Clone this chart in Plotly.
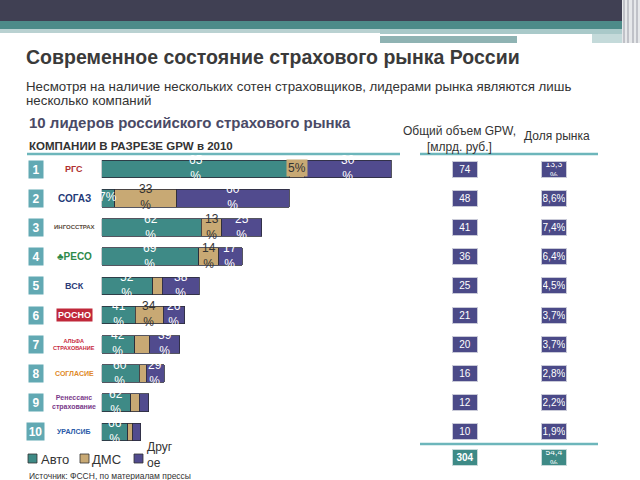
import plotly.graph_objects as go

W, H = 640, 480

# ---------------- data ----------------
ranks = [1, 2, 3, 4, 5, 6, 7, 8, 9, 10]
logo_text = ["РГС", "СОГАЗ", "ИНГОССТРАХ", "♣РЕСО", "ВСК", "РОСНО",
             "АЛЬФА<br>СТРАХОВАНИЕ", "СОГЛАСИЕ", "Ренессанс<br>страхование", "УРАЛСИБ"]
logo_color = ["#b03030", "#1f3a78", "#5a4a3a", "#2e8a4a", "#2c3c78", "#ffffff",
              "#c8283c", "#e08a2a", "#7a3a8a", "#2a5aa8"]
logo_size = [9, 10, 6, 10, 9, 9, 5.5, 7, 7, 7]
gpw = [74, 48, 41, 36, 25, 21, 20, 16, 12, 10]
market_share = ["13,3<br>%", "8,6%", "7,4%", "6,4%", "4,5%", "3,7%", "3,7%", "2,8%", "2,2%", "1,9%"]
auto = [65, 7, 62, 69, 52, 41, 42, 60, 62, 66]
dms = [5, 33, 13, 14, 10, 34, 19, 11, 18, 14]
other = [30, 60, 25, 17, 38, 26, 39, 29, 20, 20]
auto_lbl = ["65<br>%", "7%", "62<br>%", "69<br>%", "52<br>%", "41<br>%", "42<br>%", "60<br>%", "62<br>%", "66<br>%"]
dms_lbl = ["5%", "33<br>%", "13<br>%", "14<br>%", "", "34<br>%", "", "", "", ""]
other_lbl = ["30<br>%", "60<br>%", "25<br>%", "17<br>%", "38<br>%", "26<br>%", "39<br>%", "29<br>%", "", ""]
total_gpw = "304"
total_share = "54,4<br>%"
series_names = ["Авто", "ДМС", "Друг<br>ое"]

# ---------------- styles ----------------
TEAL = "#3e8a86"
TAN = "#c8a974"
PURPLE = "#514b8e"
BOX = "#4b4a88"
RANKBOX = "#62a9b3"
LINE = "#6db6bb"
FONT = "Liberation Sans, Arial, sans-serif"

def px(x):
    return x / W

def py(y):
    return 1 - y / H

auto_v = [g * a / 100 for g, a in zip(gpw, auto)]
dms_v = [g * d / 100 for g, d in zip(gpw, dms)]
other_v = [g * o / 100 for g, o in zip(gpw, other)]

fig = go.Figure()
for vals, col, name in [(auto_v, TEAL, series_names[0]), (dms_v, TAN, series_names[1]),
                        (other_v, PURPLE, series_names[2])]:
    fig.add_trace(go.Bar(
        y=ranks, x=vals, orientation="h", name=name, width=0.6,
        marker=dict(color=col, line=dict(color="#2a2a38", width=0.8)),
        showlegend=False, hoverinfo="skip"))

ann = []
shapes = []

# segment labels
for i, r in enumerate(ranks):
    starts = [0, auto_v[i], auto_v[i] + dms_v[i]]
    for k, (vals, lbls, fc) in enumerate([(auto_v, auto_lbl, "white"),
                                          (dms_v, dms_lbl, "#333333"),
                                          (other_v, other_lbl, "white")]):
        t = lbls[i]
        if not t:
            continue
        a = dict(x=starts[k] + vals[i] / 2, y=r - 0.03, xref="x", yref="y", text=t,
                 showarrow=False, font=dict(family=FONT, size=12, color=fc),
                 xanchor="center", yanchor="middle")
        if "<br>" not in t and k == 1:
            a["bgcolor"] = TAN
        ann.append(a)

    # rank boxes
    ann.append(dict(x=px(35.5), y=r, xref="paper", yref="y", text="<b>%d</b>" % r,
                    xanchor="center", yanchor="middle",
                    showarrow=False, bgcolor=RANKBOX, width=14 if r < 10 else 17, height=17,
                    borderpad=0, font=dict(family=FONT, size=12, color="white")))
    # logos
    lg = dict(x=px(74), y=r, xref="paper", yref="y", text="<b>%s</b>" % logo_text[i],
              xanchor="center", yanchor="middle",
              showarrow=False, font=dict(family=FONT, size=logo_size[i], color=logo_color[i]))
    if r == 6:
        lg["bgcolor"] = "#c0283a"
    ann.append(lg)
    # GPW boxes
    ann.append(dict(x=px(464.5), y=r, xref="paper", yref="y", text=str(gpw[i]),
                    xanchor="center", yanchor="middle",
                    showarrow=False, bgcolor=BOX, bordercolor="#c9cad8", borderwidth=1,
                    borderpad=1, width=22, height=13,
                    font=dict(family=FONT, size=10, color="white")))
    # share boxes
    ann.append(dict(x=px(554), y=r, xref="paper", yref="y", text=market_share[i],
                    xanchor="center", yanchor="middle",
                    showarrow=False, bgcolor=BOX, bordercolor="#c9cad8", borderwidth=1,
                    borderpad=1, width=22, height=13,
                    font=dict(family=FONT, size=10 if "<br>" not in market_share[i] else 8.5,
                              color="white")))

# totals
for xx, t in [(464.5, total_gpw), (554, total_share)]:
    ann.append(dict(x=px(xx), y=py(457), xref="paper", yref="paper",
                    xanchor="center", yanchor="middle",
                    text="<b>%s</b>" % t if "<br>" not in t else t,
                    showarrow=False, bgcolor=TEAL, bordercolor="#c9dada", borderwidth=1,
                    borderpad=1, width=22, height=13,
                    font=dict(family=FONT, size=10 if "<br>" not in t else 8.5, color="white")))

# header shapes
def rect(x0, y0, x1, y1, col):
    shapes.append(dict(type="rect", xref="paper", yref="paper", x0=px(x0), x1=px(x1),
                       y0=py(y1), y1=py(y0), fillcolor=col, line=dict(width=0), layer="below"))

rect(0, 0, 622, 21, "#404053")
rect(0, 21, 622, 29, "#4d8b89")
rect(0, 29, 380, 33, "#b9d1d1")
rect(380, 29, 622, 34, "#a9c9c9")
rect(380, 34, 592, 36, "#ffffff")
rect(592, 34, 622, 43, "#c4dada")
rect(380, 36, 517, 43, "#8fb3b3")
rect(622, 0, 640, 43, "#e6e8ea")
for xx in [624, 628, 633, 637]:
    shapes.append(dict(type="line", xref="paper", yref="paper", x0=px(xx), x1=px(xx),
                       y0=py(43), y1=py(0), line=dict(color="#9a9ca6", width=1)))

# separator lines
def hline(x0, x1, y, w=2.5):
    shapes.append(dict(type="line", xref="paper", yref="paper", x0=px(x0), x1=px(x1),
                       y0=py(y), y1=py(y), line=dict(color=LINE, width=w)))

hline(27, 400, 154)
hline(420, 598, 154)
hline(420, 598, 444)

# texts
def text(x, y, t, size, color="#333333", anchor="left", family=FONT):
    ann.append(dict(x=px(x), y=py(y), xref="paper", yref="paper", text=t, showarrow=False,
                    xanchor=anchor, yanchor="middle", align=anchor,
                    font=dict(family=family, size=size, color=color)))

text(24, 57, "<b>Современное состояние страхового рынка России</b>", 19.5, "#3a3a3a")
text(24, 86, "Несмотря на наличие нескольких сотен страховщиков, лидерами рынка являются лишь", 13.3)
text(24, 100, "несколько компаний", 13.3)
text(27, 123, "<b>10 лидеров российского страхового рынка</b>", 15, "#4a4a66")
text(27, 146, "<b>КОМПАНИИ В РАЗРЕЗЕ GPW в 2010</b>", 11.5, "#333333")
text(401, 131, "Общий объем GPW,", 12)
text(425, 147, "[млрд. руб.]", 12)
text(522, 136, "Доля рынка", 12)
text(27, 476, "Источник: ФССН, по материалам прессы", 8.5)

# legend
for x0, col, name, tx in [(28, TEAL, series_names[0], 39), (80, TAN, series_names[1], 90),
                          (134, PURPLE, series_names[2], 145)]:
    shapes.append(dict(type="rect", xref="paper", yref="paper", x0=px(x0), x1=px(x0 + 9),
                       y0=py(463), y1=py(454), fillcolor=col, line=dict(color="#333", width=0.8)))
    two = "<br>" in name
    ann.append(dict(x=px(tx), y=py(455 if two else 459), xref="paper", yref="paper", text=name,
                    showarrow=False, xanchor="left", yanchor="middle", align="left",
                    font=dict(family=FONT, size=12 if two else 13, color="#333333")))

fig.update_layout(
    width=W, height=H, margin=dict(l=0, r=0, t=0, b=0),
    paper_bgcolor="white", plot_bgcolor="rgba(0,0,0,0)",
    barmode="stack", bargap=0.4, showlegend=False,
    xaxis=dict(domain=[px(101.7), px(400)], range=[0, 76.3], visible=False, fixedrange=True),
    yaxis=dict(domain=[0.0696, 0.6783], range=[10.5, 0.5], visible=False, fixedrange=True),
    annotations=ann, shapes=shapes,
)

fig.write_html("out.html", config={"displayModeBar": False},
               post_script="document.body.style.margin='0px';document.body.style.overflow='hidden';")
